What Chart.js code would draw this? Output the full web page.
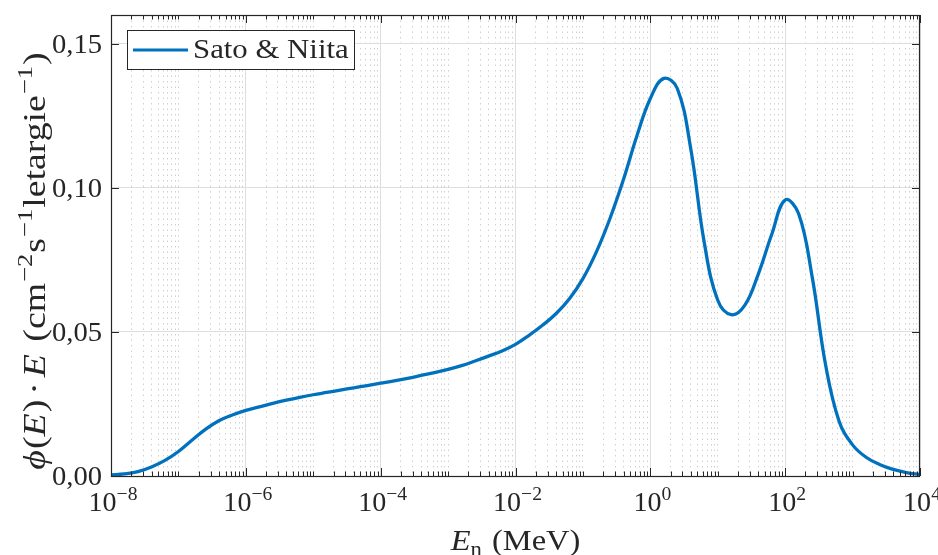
<!DOCTYPE html>
<html>
<head>
<meta charset="utf-8">
<script src="https://cdn.jsdelivr.net/npm/chart.js@4"></script>
<style>
  html, body { margin: 0; padding: 0; background: #ffffff; }
  #wrap { width: 938px; height: 555px; }
</style>
</head>
<body>
<div id="wrap"><canvas id="c" width="938" height="555"></canvas></div>
<script>
// Neutron spectrum, lethargy representation (Sato & Niita model)
// energies in MeV, five points per decade
const energyMeV = [
  1e-8, 1.585e-8, 2.512e-8, 3.981e-8, 6.310e-8,
  1e-7, 1.585e-7, 2.512e-7, 3.981e-7, 6.310e-7,
  1e-6, 1.585e-6, 2.512e-6, 3.981e-6, 6.310e-6,
  1e-5, 1.585e-5, 2.512e-5, 3.981e-5, 6.310e-5,
  1e-4, 1.585e-4, 2.512e-4, 3.981e-4, 6.310e-4,
  1e-3, 1.585e-3, 2.512e-3, 3.981e-3, 6.310e-3,
  1e-2, 1.585e-2, 2.512e-2, 3.981e-2, 6.310e-2,
  0.1, 0.1585, 0.2512, 0.3981, 0.6310,
  1, 1.585, 2.512, 3.981, 6.310,
  10, 15.85, 25.12, 39.81, 63.10,
  100, 158.5, 251.2, 398.1, 631.0,
  1000, 1585, 2512, 3981, 6310,
  10000
];
// phi(E)*E in cm^-2 s^-1 per unit lethargy
const fluxLethargy = [
  0.0004, 0.0007, 0.0015, 0.0031, 0.0054,
  0.0085, 0.0124, 0.0162, 0.0192, 0.0212,
  0.0228, 0.0240, 0.0252, 0.0263, 0.0273,
  0.0282, 0.0290, 0.0298, 0.0306, 0.0314,
  0.0322, 0.0330, 0.0339, 0.0349, 0.0359,
  0.0370, 0.0383, 0.0399, 0.0416, 0.0434,
  0.0457, 0.0488, 0.0523, 0.0563, 0.0615,
  0.0685, 0.0778, 0.0893, 0.1028, 0.1180,
  0.1310, 0.1380, 0.1345, 0.1135, 0.0810,
  0.0610, 0.0560, 0.0592, 0.0700, 0.0838,
  0.0958, 0.0910, 0.0692, 0.0385, 0.0190,
  0.0108, 0.0065, 0.0040, 0.0023, 0.0012,
  0.0005
];
const seriesName = 'Sato & Niita';

// Axis ticks
const xLabelledTicks = [1e-8, 1e-6, 1e-4, 1e-2, 1, 1e2, 1e4];
const xTickExponents = ['\u22128', '\u22126', '\u22124', '\u22122', '0', '2', '4'];
const yTicks = [0, 0.05, 0.10, 0.15];
const yTickLabels = ['0,00', '0,05', '0,10', '0,15'];

const LINE_COLOR = '#0072BD';
const INK = '#262626';
const FONT = '"Liberation Serif", "DejaVu Serif", serif';

// every 1..9 x 10^d between the axis limits, for the log grid
const xGridTicks = [];
for (let d = -8; d <= 4; d++) {
  for (let m = 1; m <= 9; m++) {
    if (d === 4 && m > 1) break;
    xGridTicks.push(m * Math.pow(10, d));
  }
}
const isLabelled = v => xLabelledTicks.some(t => Math.abs(Math.log10(v) - Math.log10(t)) < 1e-9);

function fontStr(size, italic) {
  return (italic ? 'italic ' : '') + size.toFixed(1) + 'px ' + FONT;
}

// draws a run of text pieces (normal / italic / superscript / subscript) on one baseline
function drawRich(ctx, parts, x, y, align, size, stretch) {
  stretch = stretch || 1;
  let w = 0;
  const items = parts.map(p => {
    const s = (p.sup || p.sub) ? size * 0.7 : size;
    ctx.font = fontStr(s, p.it);
    const pw = ctx.measureText(p.t).width * stretch + (p.gap || 0);
    w += pw;
    return { p, s, pw };
  });
  let cx = align === 'center' ? x - w / 2 : (align === 'right' ? x - w : x);
  ctx.textAlign = 'left';
  ctx.textBaseline = 'alphabetic';
  items.forEach(({ p, s, pw }) => {
    ctx.font = fontStr(s, p.it);
    const dy = p.sup ? -size * 0.42 : (p.sub ? size * 0.2 : 0);
    ctx.save();
    ctx.translate(cx + (p.pre || 0), y + dy);
    ctx.scale(stretch, 1);
    ctx.fillText(p.t, 0, 0);
    ctx.restore();
    cx += pw;
  });
  return w;
}

function seg(ctx, x1, y1, x2, y2) {
  ctx.beginPath();
  ctx.moveTo(x1, y1);
  ctx.lineTo(x2, y2);
  ctx.stroke();
}

const axesDecor = {
  id: 'axesDecor',
  afterDraw(chart) {
    const ctx = chart.ctx;
    const ca = chart.chartArea;
    const xs = chart.scales.x;
    const ys = chart.scales.y;
    ctx.save();
    ctx.strokeStyle = INK;
    ctx.fillStyle = INK;
    ctx.lineWidth = 1;

    // inward ticks on all four sides
    xs.ticks.forEach(t => {
      const px = Math.round(xs.getPixelForValue(t.value)) + 0.5;
      const len = t.major ? 8 : 4.5;
      seg(ctx, px, ca.bottom, px, ca.bottom - len);
      seg(ctx, px, ca.top, px, ca.top + len);
    });
    ys.ticks.forEach(t => {
      const py = Math.round(ys.getPixelForValue(t.value)) + 0.5;
      seg(ctx, ca.left, py, ca.left + 8, py);
      seg(ctx, ca.right, py, ca.right - 8, py);
    });

    // axes box
    ctx.lineWidth = 1.2;
    ctx.strokeRect(Math.round(ca.left) + 0.5, Math.round(ca.top) + 0.5,
                   Math.round(ca.width) - 1, Math.round(ca.height));

    // x tick labels 10^n
    xLabelledTicks.forEach((v, i) => {
      const px = xs.getPixelForValue(v);
      drawRich(ctx, [{ t: '10' }, { t: xTickExponents[i], sup: true }], px + 2, ca.bottom + 35, 'center', 27, 1.04);
    });
    // y tick labels
    yTicks.forEach((v, i) => {
      const py = ys.getPixelForValue(v);
      drawRich(ctx, [{ t: yTickLabels[i] }], ca.left - 9, py + 9, 'right', 27, 1.06);
    });

    // x axis title
    drawRich(ctx, [
      { t: 'E', it: true }, { t: 'n', sub: true, gap: 2 }, { t: ' (MeV)' }
    ], (ca.left + ca.right) / 2, 550, 'center', 29, 1.12);

    // y axis title
    ctx.save();
    ctx.translate(45, 261);
    ctx.rotate(-Math.PI / 2);
    drawRich(ctx, [
      { t: '\u03D5', it: true, gap: 1 }, { t: '(' }, { t: 'E', it: true, gap: 1 }, { t: ')', gap: 5 },
      { t: '\u00B7', gap: 5 }, { t: 'E', it: true, gap: 3 },
      { t: ' (cm' }, { t: '\u22122', sup: true, gap: 2, pre: 1 }, { t: 's' }, { t: '\u22121', sup: true, gap: 2, pre: 1 },
      { t: 'letargie' }, { t: '\u22121', sup: true, gap: 2, pre: 1 }, { t: ')' }
    ], 0, 0, 'center', 31, 1.22);
    ctx.restore();

    // legend
    const lx = 127.5, ly = 30.5, lw = 227, lh = 39;
    ctx.fillStyle = '#ffffff';
    ctx.fillRect(lx, ly, lw, lh);
    ctx.lineWidth = 1;
    ctx.strokeStyle = INK;
    ctx.strokeRect(lx, ly, lw, lh);
    ctx.strokeStyle = LINE_COLOR;
    ctx.lineWidth = 3.2;
    seg(ctx, 133, 50, 188, 50);
    ctx.fillStyle = INK;
    drawRich(ctx, [{ t: seriesName }], 193, 58, 'left', 28, 1.1);
    ctx.restore();
  }
};

new Chart(document.getElementById('c'), {
  type: 'line',
  data: {
    datasets: [{
      label: seriesName,
      data: energyMeV.map((e, i) => ({ x: e, y: fluxLethargy[i] })),
      borderColor: LINE_COLOR,
      borderWidth: 3.3,
      pointRadius: 0,
      fill: false,
      tension: 0.4,
      borderCapStyle: 'round',
      borderJoinStyle: 'round'
    }]
  },
  options: {
    responsive: false,
    animation: false,
    events: [],
    layout: { padding: { left: 0, top: 15, right: 18, bottom: 0 } },
    plugins: { legend: { display: false }, tooltip: { enabled: false }, title: { display: false } },
    scales: {
      x: {
        type: 'logarithmic',
        min: 1e-8,
        max: 1e4,
        afterBuildTicks: s => { s.ticks = xGridTicks.map(v => ({ value: v, major: isLabelled(v) })); },
        afterFit: s => { s.height = 79; },
        ticks: { display: false },
        grid: {
          drawTicks: false,
          lineWidth: 1,
          color: c => (c.tick && c.tick.major) ? '#dedede' : '#d0d0d0'
        },
        border: {
          display: false,
          dash: c => (c.tick && !c.tick.major) ? [1.5, 4] : []
        }
      },
      y: {
        min: 0,
        max: 0.16,
        afterBuildTicks: s => { s.ticks = yTicks.map(v => ({ value: v })); },
        afterFit: s => { s.width = 111; },
        ticks: { display: false },
        grid: { drawTicks: false, lineWidth: 1, color: '#dedede' },
        border: { display: false }
      }
    }
  },
  plugins: [axesDecor]
});
</script>
</body>
</html>
